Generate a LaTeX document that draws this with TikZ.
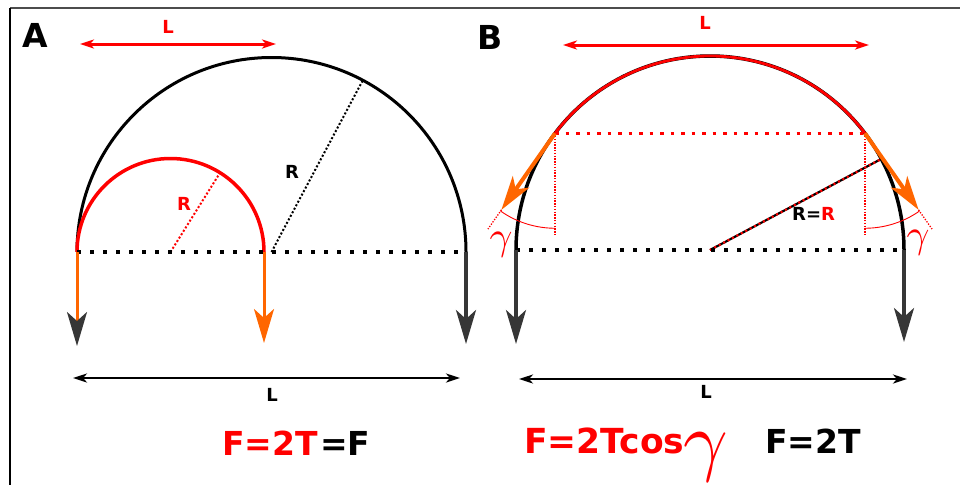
\documentclass[tikz,border=0pt]{standalone}
\usepackage{fontspec}
\setmainfont{DejaVu Sans}
\usetikzlibrary{arrows.meta,calc}
\definecolor{myred}{HTML}{FF0000}
\definecolor{myorange}{HTML}{FF6600}
\definecolor{mydark}{HTML}{363636}
\tikzset{
  bigtip/.tip={Stealth[length=34pt,width=20pt,inset=9pt]},
  smalltip/.tip={Stealth[length=14pt,width=9pt,inset=4pt]},
}
\begin{document}
\begin{tikzpicture}[x=1pt,y=-1pt,
  blackarc/.style={draw=black,line width=3pt},
  redarc/.style={draw=myred,line width=3.5pt},
  basedots/.style={draw=black,line width=3.5pt,dash pattern=on 3.5pt off 9.5pt},
  thickreddots/.style={draw=myred,line width=3pt,dash pattern=on 3.5pt off 7pt},
  thinreddots/.style={draw=myred,line width=1.3pt,dash pattern=on 1.3pt off 1.5pt},
  raddots/.style={line width=2pt,dash pattern=on 2pt off 2pt},
  orangeshaft/.style={draw=myorange,line width=3pt},
  darkshaft/.style={draw=mydark,line width=3.3pt},
  dimline/.style={draw=black,line width=2.3pt,{smalltip}-{smalltip}},
  reddim/.style={draw=myred,line width=3pt,{smalltip}-{smalltip}},
  anglearc/.style={draw=myred,line width=0.9pt},
  big/.style={font=\fontsize{33}{40}\selectfont\bfseries,inner sep=0pt},
  small/.style={font=\fontsize{18}{22}\selectfont\bfseries,inner sep=0pt},
]
\useasboundingbox (0,0) rectangle (960,485);
% frame
\draw[draw=gray!60!black,line width=1.6pt] (10,8) -- (960,8);
\draw[draw=black,line width=1.6pt] (10,8) -- (10,485);

% ================= Panel A =================
\node[big,anchor=base west] (labA) at (22,47) {A};
\coordinate (AC) at (271.5,252);
\coordinate (AC2) at (170.5,252);
\coordinate (AL) at (77,252);
\coordinate (AM) at (264,252);
\coordinate (AR) at (466,252);
\coordinate (ALt) at (77,346);
\coordinate (AMt) at (264,343);
\coordinate (ARt) at (466,344);
\coordinate (ARad) at ($(AC)+(-62:194.5)$);
\coordinate (ARad2) at ($(AC2)+(-58:93.5)$);

\draw[blackarc] (AR) arc[start angle=0,end angle=-180,radius=194.5];
\draw[redarc] (AM) arc[start angle=0,end angle=-180,radius=93.5];
\draw[raddots,draw=black] (AC) -- (ARad);
\draw[raddots,draw=myred] (AC2) -- (ARad2);
\draw[basedots] (AL) -- (AR);

\draw[orangeshaft,-{bigtip[color=mydark]}] (AL) -- (ALt);
\draw[orangeshaft,-{bigtip}] (AM) -- (AMt);
\draw[darkshaft,-{bigtip}] (AR) -- (ARt);

\node[small,text=myred] (rA1) at (184,204) {R};
\node[small,text=black] (rA2) at (292,172) {R};

\coordinate (ATL1) at (80,44);
\coordinate (ATL2) at (276,44);
\draw[reddim] (ATL1) -- (ATL2);
\node[small,text=myred] (lA1) at (168,27) {L};

\coordinate (ABL1) at (73,378);
\coordinate (ABL2) at (460,378);
\draw[dimline] (ABL1) -- (ABL2);
\node[small] (lA2) at (272,395) {L};

\node[big,anchor=base west,text=myred] (fA1) at (222,455) {F=2T};
\node[big,anchor=base west,text=black] (fA2) at (320,455) {=F};

% ================= Panel B =================
\node[big,anchor=base west] (labB) at (477,49) {B};
\coordinate (BC) at (710,250);
\coordinate (BL) at (516,250);
\coordinate (BR) at (904,250);
\coordinate (BLt) at (516,344);
\coordinate (BRt) at (904,342);
\coordinate (P1) at ($(BC)+(-143:194)$);
\coordinate (P2) at ($(BC)+(-37:194)$);
\coordinate (P1d) at ($(P1)+(0,103)$);
\coordinate (P2d) at ($(P2)+(0,103)$);
\coordinate (T1) at ($(P1)+(125:93.5)$);
\coordinate (T2) at ($(P2)+(55:93.5)$);
\coordinate (E1) at ($(P1)+(125:117)$);
\coordinate (E2) at ($(P2)+(55:117)$);
\coordinate (A1s) at ($(P1)+(90:95)$);
\coordinate (A2s) at ($(P2)+(90:95)$);
\coordinate (BRad) at ($(BC)+(-28:194)$);

\draw[blackarc,line width=3.5pt] (BR) arc[start angle=0,end angle=-180,radius=194];
\draw[redarc,line width=2.8pt] (P2) arc[start angle=-37,end angle=-143,radius=194];

\draw[thickreddots] (P1) -- (P2);
\draw[thinreddots] (P1) -- (P1d);
\draw[thinreddots] (P2) -- (P2d);
\draw[thinreddots] (T1) -- (E1);
\draw[thinreddots] (T2) -- (E2);
\draw[anglearc] (A1s) arc[start angle=90,end angle=125,radius=95];
\draw[anglearc] (A2s) arc[start angle=90,end angle=55,radius=95];

\draw[line width=2.2pt,draw=black] (BC) -- (BRad);
\draw[line width=2.2pt,draw=myred,dash pattern=on 2pt off 3pt] (BC) -- (BRad);

\draw[basedots] (BL) -- (BR);
\draw[darkshaft,-{bigtip}] (BL) -- (BLt);
\draw[darkshaft,-{bigtip}] (BR) -- (BRt);

\draw[orangeshaft,line width=4pt,-{bigtip}] (P1) -- (T1);
\draw[orangeshaft,line width=4pt,-{bigtip}] (P2) -- (T2);

\node[text=myred,scale=4,inner sep=0pt] (g1) at (501,245) {$\gamma$};
\node[text=myred,scale=4,inner sep=0pt] (g2) at (918,243) {$\gamma$};

\node[small,anchor=base west] (rB1) at (792,220) {R=\textcolor{myred}{R}};

\coordinate (BTL1) at (563,45);
\coordinate (BTL2) at (869,45);
\draw[reddim] (BTL1) -- (BTL2);
\node[small,text=myred] (lB1) at (705,23) {L};

\coordinate (BBL1) at (519,379);
\coordinate (BBL2) at (907,379);
\draw[dimline] (BBL1) -- (BBL2);
\node[small] (lB2) at (706,392) {L};

\node[big,anchor=base west,text=myred,font=\fontsize{34.5}{40}\selectfont\bfseries] (fB1) at (524,453) {F=2Tcos};
\node[text=myred,scale=7.8,inner sep=0pt] (g3) at (706,457) {$\gamma$};
\node[big,anchor=base west,text=black] (fB2) at (765,453) {F=2T};
\end{tikzpicture}
\end{document}
